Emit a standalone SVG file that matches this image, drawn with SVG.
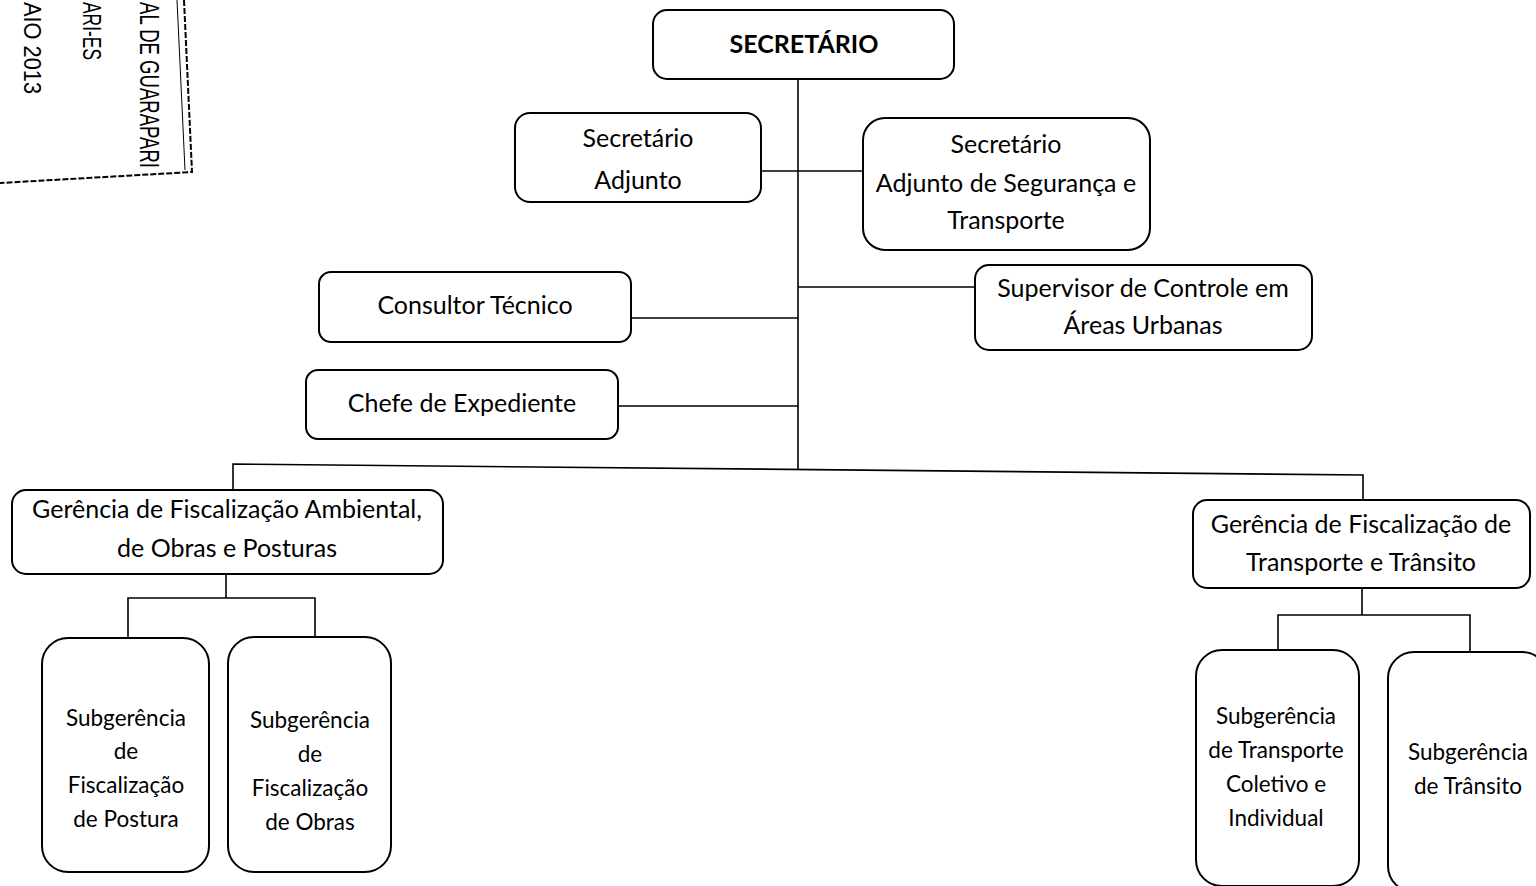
<svg xmlns="http://www.w3.org/2000/svg" width="1536" height="886" viewBox="0 0 1536 886">
<style>
.box{fill:#fff;stroke:#000;stroke-width:2}
.t{font-family:Lato,"Open Sans","Liberation Sans",sans-serif;font-size:25px;fill:#000;text-anchor:middle}
.s{font-size:22.5px}
.b{font-weight:bold}
.c{fill:none;stroke:#000;stroke-width:1.6}
.st{font-family:"Liberation Sans",sans-serif;font-stretch:condensed;fill:#000}
</style>
<rect width="1536" height="886" fill="#fff"/>
<g id="stamp">
<text class="st" transform="translate(140,2) rotate(90)" font-size="28" textLength="166" lengthAdjust="spacingAndGlyphs">AL DE GUARAPARI</text>
<text class="st" transform="translate(83,2) rotate(90)" font-size="26" textLength="58" lengthAdjust="spacingAndGlyphs">ARI-ES</text>
<text class="st" transform="translate(24,2) rotate(90)" font-size="24" textLength="92" lengthAdjust="spacingAndGlyphs">AIO 2013</text>
<path d="M184,0 L192,172 L0,183" fill="none" stroke="#000" stroke-width="2" stroke-dasharray="6,2"/>
<path d="M177,0 L185,170" fill="none" stroke="#000" stroke-width="1"/>
</g>
<g id="connectors">
<path class="c" d="M798,79 V470"/>
<path class="c" d="M761,171 H864"/>
<path class="c" d="M798,287 H975"/>
<path class="c" d="M631,318 H798"/>
<path class="c" d="M618,406 H798"/>
<path class="c" d="M233,490 V464 L1363,475 V512"/>
<path class="c" d="M226,574 V598 M128,638 V598 H315 V637"/>
<path class="c" d="M1362,588 V615 M1278,650 V615 H1470 V652"/>
</g>
<g id="n-secretario">
<rect class="box" x="653" y="10" width="301" height="69" rx="14"/>
<text class="t b" x="804" y="53" font-size="27">SECRETÁRIO</text>
</g>
<g id="n-adjunto">
<rect class="box" x="515" y="113" width="246" height="89" rx="15"/>
<text class="t" x="638" y="147" font-size="29">Secretário</text>
<text class="t" x="638" y="189" font-size="29">Adjunto</text>
</g>
<g id="n-adjunto-seg">
<rect class="box" x="863" y="118" width="287" height="132" rx="22"/>
<text class="t" x="1006" y="153">Secretário</text>
<text class="t" x="1006" y="192">Adjunto de Segurança e</text>
<text class="t" x="1006" y="229">Transporte</text>
</g>
<g id="n-supervisor">
<rect class="box" x="975" y="265" width="337" height="85" rx="14"/>
<text class="t" x="1143" y="297">Supervisor de Controle em</text>
<text class="t" x="1143" y="334">Áreas Urbanas</text>
</g>
<g id="n-consultor">
<rect class="box" x="319" y="272" width="312" height="70" rx="12"/>
<text class="t" x="475" y="314">Consultor Técnico</text>
</g>
<g id="n-chefe">
<rect class="box" x="306" y="370" width="312" height="69" rx="12"/>
<text class="t" x="462" y="412">Chefe de Expediente</text>
</g>
<g id="n-gerencia-amb">
<rect class="box" x="12" y="490" width="431" height="84" rx="14"/>
<text class="t" x="227" y="518" font-size="26">Gerência de Fiscalização Ambiental,</text>
<text class="t" x="227" y="557" font-size="26">de Obras e Posturas</text>
</g>
<g id="n-gerencia-trans">
<rect class="box" x="1193" y="500" width="337" height="88" rx="14"/>
<text class="t" x="1361" y="533">Gerência de Fiscalização de</text>
<text class="t" x="1361" y="571">Transporte e Trânsito</text>
</g>
<g id="n-sub-postura">
<rect class="box" x="42" y="638" width="167" height="234" rx="26"/>
<text class="t s" x="126" y="726">Subgerência</text>
<text class="t s" x="126" y="759">de</text>
<text class="t s" x="126" y="793">Fiscalização</text>
<text class="t s" x="126" y="827">de Postura</text>
</g>
<g id="n-sub-obras">
<rect class="box" x="228" y="637" width="163" height="235" rx="26"/>
<text class="t s" x="310" y="728">Subgerência</text>
<text class="t s" x="310" y="762">de</text>
<text class="t s" x="310" y="796">Fiscalização</text>
<text class="t s" x="310" y="830">de Obras</text>
</g>
<g id="n-sub-transporte">
<rect class="box" x="1196" y="650" width="163" height="236" rx="26"/>
<text class="t s" x="1276" y="724">Subgerência</text>
<text class="t s" x="1276" y="758">de Transporte</text>
<text class="t s" x="1276" y="792">Coletivo e</text>
<text class="t s" x="1276" y="826">Individual</text>
</g>
<g id="n-sub-transito">
<rect class="box" x="1388" y="652" width="160" height="240" rx="26"/>
<text class="t s" x="1468" y="760">Subgerência</text>
<text class="t s" x="1468" y="794">de Trânsito</text>
</g>
</svg>
